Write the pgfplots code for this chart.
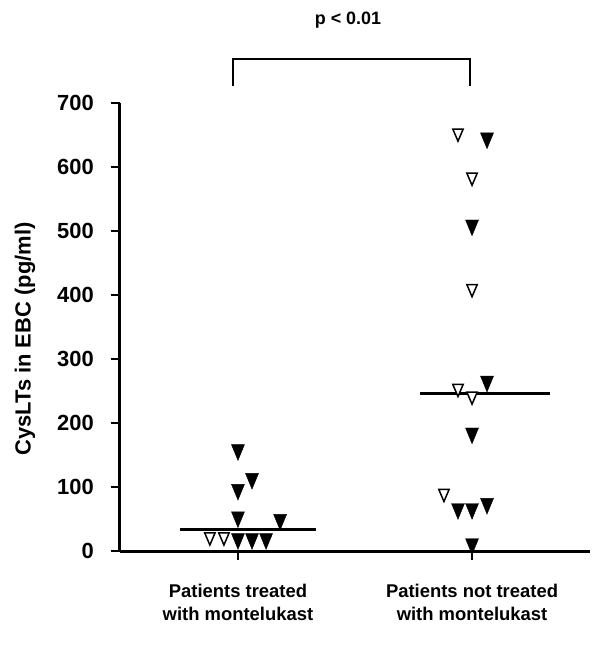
\documentclass[border=0pt]{standalone}
\usepackage{fontspec}
\setmainfont{Liberation Sans}
\usepackage{pgfplots}
\pgfplotsset{compat=1.18}
\pgfplotstableread{
x y
1.00 158
1.06 113
1.00 96
1.00 53
1.18 49
1.00 19
1.06 19
1.12 19
2.064 645
2.00 509
2.064 265
2.00 184
1.94 66
2.00 66
2.064 74
2.00 11
}\filled
\pgfplotstableread{
x y
0.88 22
0.94 22
1.94 653
2.00 584
2.00 410
1.94 254
2.00 242
1.88 90
}\open
\begin{document}
\begin{tikzpicture}[x=1bp,y=1bp]
\useasboundingbox (-120,-104) rectangle (480,551);
\begin{axis}[
  at={(0,0)}, anchor=south west,
  scale only axis, width=470bp, height=448bp,
  xmin=0.496, xmax=2.504, ymin=0, ymax=700,
  axis x line*=bottom, axis y line*=left,
  axis line style={line width=3bp, -},
  clip=false,
  ytick={0,100,...,700},
  xtick={1,2},
  xticklabels={Patients treated\\with montelukast, Patients not treated\\with montelukast},
  tick align=outside,
  major tick length=9bp,
  tick style={line width=2.5bp, black},
  /pgf/number format/assume math mode=true,
  yticklabel style={font=\bfseries\fontsize{22}{26}\selectfont, inner sep=0pt, xshift=-17bp},
  xticklabel style={font=\bfseries\fontsize{18.5}{23}\selectfont, align=center, inner sep=0pt, yshift=-24bp},
  ylabel={CysLTs in EBC (pg/ml)},
  ylabel style={font=\bfseries\fontsize{22}{26}\selectfont, at={(axis description cs:-0.202,0.473)}, anchor=center},
]
\addplot[only marks, mark=triangle*, mark size=7.5bp, mark options={rotate=180, yscale=1.4, fill=black, draw=black}] table {\filled};
\addplot[only marks, mark=triangle*, mark size=6bp, mark options={rotate=180, yscale=1.35, fill=white, draw=black, line width=1.5bp}] table {\open};
\addplot[line width=3bp, black] coordinates {(0.752,33) (1.333,33)};
\addplot[line width=3bp, black] coordinates {(1.778,246) (2.333,246)};
\draw[line width=2bp] (axis cs:0.979,727) -- (axis cs:0.979,769) -- (axis cs:1.991,769) -- (axis cs:1.991,727);
\node[font=\bfseries\fontsize{18}{20}\selectfont] at (axis cs:1.47,829) {p < 0.01};
\end{axis}
\end{tikzpicture}
\end{document}
